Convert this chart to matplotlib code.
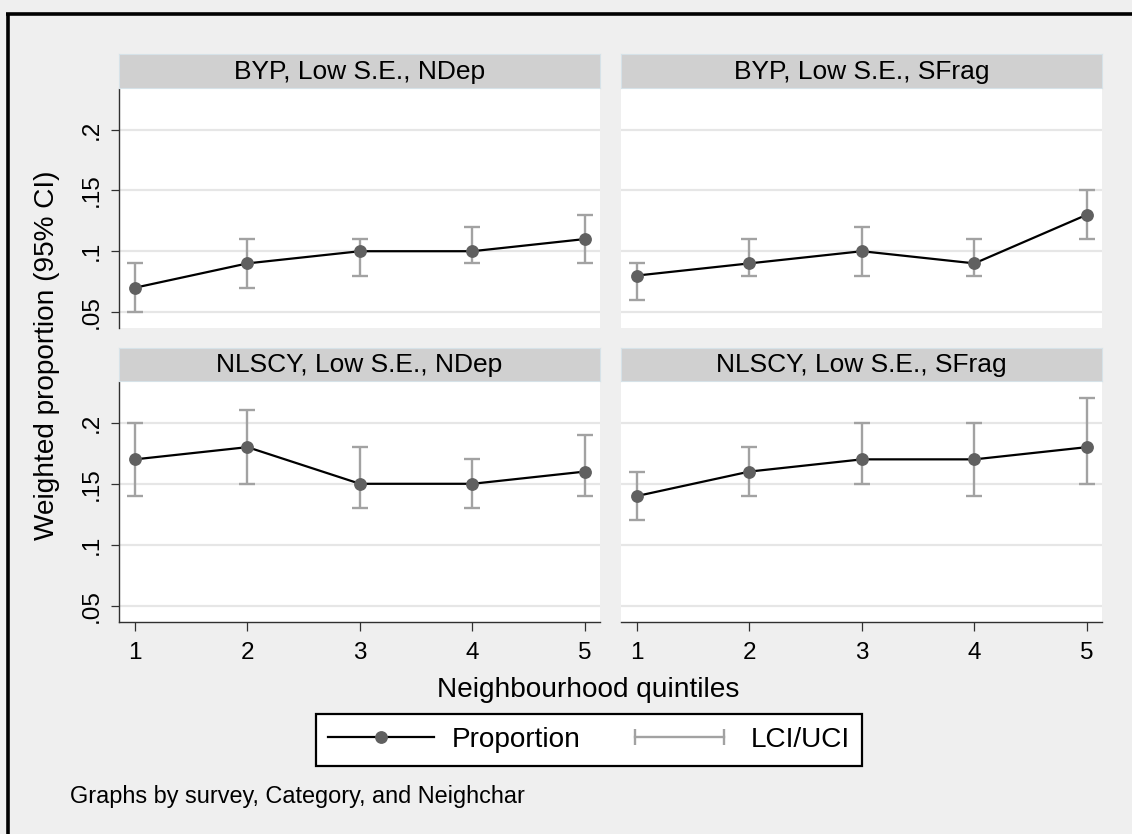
import numpy as np
import matplotlib
matplotlib.use("Agg")
import matplotlib.pyplot as plt
from matplotlib.lines import Line2D
from matplotlib.legend_handler import HandlerLine2D

plt.rcParams['font.family'] = ['Liberation Sans', 'DejaVu Sans']

# ---- data ----
quintiles = [1, 2, 3, 4, 5]
panel_titles = ["BYP, Low S.E., NDep", "BYP, Low S.E., SFrag",
                "NLSCY, Low S.E., NDep", "NLSCY, Low S.E., SFrag"]

byp_ndep_prop = [0.07, 0.09, 0.10, 0.10, 0.11]
byp_ndep_lci = [0.05, 0.07, 0.08, 0.09, 0.09]
byp_ndep_uci = [0.09, 0.11, 0.11, 0.12, 0.13]

byp_sfrag_prop = [0.08, 0.09, 0.10, 0.09, 0.13]
byp_sfrag_lci = [0.06, 0.08, 0.08, 0.08, 0.11]
byp_sfrag_uci = [0.09, 0.11, 0.12, 0.11, 0.15]

nlscy_ndep_prop = [0.17, 0.18, 0.15, 0.15, 0.16]
nlscy_ndep_lci = [0.14, 0.15, 0.13, 0.13, 0.14]
nlscy_ndep_uci = [0.20, 0.21, 0.18, 0.17, 0.19]

nlscy_sfrag_prop = [0.14, 0.16, 0.17, 0.17, 0.18]
nlscy_sfrag_lci = [0.12, 0.14, 0.15, 0.14, 0.15]
nlscy_sfrag_uci = [0.16, 0.18, 0.20, 0.20, 0.22]

y_ticks = [0.05, 0.10, 0.15, 0.20]
y_ticklabels = [".05", ".1", ".15", ".2"]
x_ticklabels = ["1", "2", "3", "4", "5"]

series = [
    (byp_ndep_prop, byp_ndep_lci, byp_ndep_uci),
    (byp_sfrag_prop, byp_sfrag_lci, byp_sfrag_uci),
    (nlscy_ndep_prop, nlscy_ndep_lci, nlscy_ndep_uci),
    (nlscy_sfrag_prop, nlscy_sfrag_lci, nlscy_sfrag_uci),
]

# ---- style ----
W, H = 1132, 834
BG = '#efefef'
STRIP = '#d0d0d0'
GRID = '#e6e6e6'
CI_COL = '#a2a2a2'
MK_COL = '#606060'
TICK_FS = 17.5
TITLE_FS = 19
LABEL_FS = 20.2

fig = plt.figure(figsize=(W / 100, H / 100), dpi=100, facecolor=BG)


def rect(x0, y0, x1, y1):
    return [x0 / W, 1 - y1 / H, (x1 - x0) / W, (y1 - y0) / H]


panel_px = [
    (119, 89, 600, 328),
    (621, 89, 1102, 328),
    (119, 382, 600, 622),
    (621, 382, 1102, 622),
]
strip_px = [
    (119, 54, 600, 88),
    (621, 54, 1102, 88),
    (119, 348, 600, 381),
    (621, 348, 1102, 381),
]

for i, (title, (prop, lci, uci)) in enumerate(zip(panel_titles, series)):
    ax = fig.add_axes(rect(*panel_px[i]))
    ax.set_facecolor('white')
    prop = np.array(prop)
    lci = np.array(lci)
    uci = np.array(uci)
    ax.errorbar(quintiles, prop, yerr=[prop - lci, uci - prop], fmt='none',
                ecolor=CI_COL, elinewidth=1.7, capsize=5.5, capthick=1.7, zorder=2)
    ax.plot(quintiles, prop, color='black', lw=1.6, marker='o', ms=8.2,
            mfc=MK_COL, mec=MK_COL, zorder=3)
    ax.set_xlim(0.858, 5.134)
    ax.set_ylim(0.0369, 0.2333)
    ax.set_yticks(y_ticks)
    ax.set_xticks(quintiles)
    ax.grid(axis='y', color=GRID, lw=1.6)
    ax.grid(axis='x', visible=False)
    ax.set_axisbelow(True)
    for s in ['top', 'right']:
        ax.spines[s].set_visible(False)
    left_col = (i % 2 == 0)
    bottom_row = (i >= 2)
    if left_col:
        ax.spines['left'].set_color('#303030')
        ax.spines['left'].set_linewidth(1.0)
        ax.set_yticklabels(y_ticklabels, rotation=90, va='center', fontsize=TICK_FS)
        ax.tick_params(axis='y', length=5.5, width=0.9, color='#303030', pad=6)
    else:
        ax.spines['left'].set_visible(False)
        ax.tick_params(axis='y', left=False, labelleft=False)
    if bottom_row:
        ax.spines['bottom'].set_color('#303030')
        ax.spines['bottom'].set_linewidth(1.0)
        ax.set_xticklabels(x_ticklabels, fontsize=TICK_FS)
        ax.tick_params(axis='x', length=6.5, width=0.9, color='#303030', pad=8)
    else:
        ax.spines['bottom'].set_visible(False)
        ax.tick_params(axis='x', bottom=False, labelbottom=False)

    sax = fig.add_axes(rect(*strip_px[i]))
    sax.set_facecolor(STRIP)
    sax.set_xticks([])
    sax.set_yticks([])
    for s in sax.spines.values():
        s.set_color('#d6e2e8')
        s.set_linewidth(0.8)
    sax.text(0.5, 0.47, title, ha='center', va='center', fontsize=TITLE_FS,
             transform=sax.transAxes)

# axis titles
fig.text(47 / W, 1 - 355 / H, "Weighted proportion (95% CI)", rotation=90,
         ha='center', va='center', fontsize=LABEL_FS)
fig.text(588 / W, 1 - 690 / H, "Neighbourhood quintiles", ha='center',
         va='center', fontsize=LABEL_FS)

# legend
h_prop = Line2D([], [], color='black', lw=1.6, marker='o', ms=8.2,
                mfc=MK_COL, mec=MK_COL)
h_ci = Line2D([], [], color=CI_COL, lw=1.7, marker='|', ms=11, mew=1.7,
              mec=CI_COL)
leg = fig.legend([h_prop, h_ci], ["Proportion", "LCI/UCI"], ncol=2,
                 loc='center', bbox_to_anchor=(589 / W, 1 - 740 / H),
                 fontsize=LABEL_FS, frameon=True, fancybox=False,
                 edgecolor='black', facecolor='white', framealpha=1,
                 handlelength=3.75, handletextpad=0.65, columnspacing=1.65,
                 borderpad=0.45, borderaxespad=0,
                 handler_map={h_prop: HandlerLine2D(numpoints=1),
                              h_ci: HandlerLine2D(numpoints=2)})
leg.get_frame().set_linewidth(1.6)

fig.text(70 / W, 1 - 796 / H, "Graphs by survey, Category, and Neighchar",
         ha='left', va='center', fontsize=16.9)

# outer border (top and left)
fig.add_artist(Line2D([6 / W, 1], [1 - 13.5 / H, 1 - 13.5 / H],
                      transform=fig.transFigure, color='black', lw=2.6,
                      solid_capstyle='butt'))
fig.add_artist(Line2D([7.5 / W, 7.5 / W], [0, 1 - 13.5 / H],
                      transform=fig.transFigure, color='black', lw=2.6,
                      solid_capstyle='butt'))

fig.savefig('out.png', dpi=100, facecolor=BG)
